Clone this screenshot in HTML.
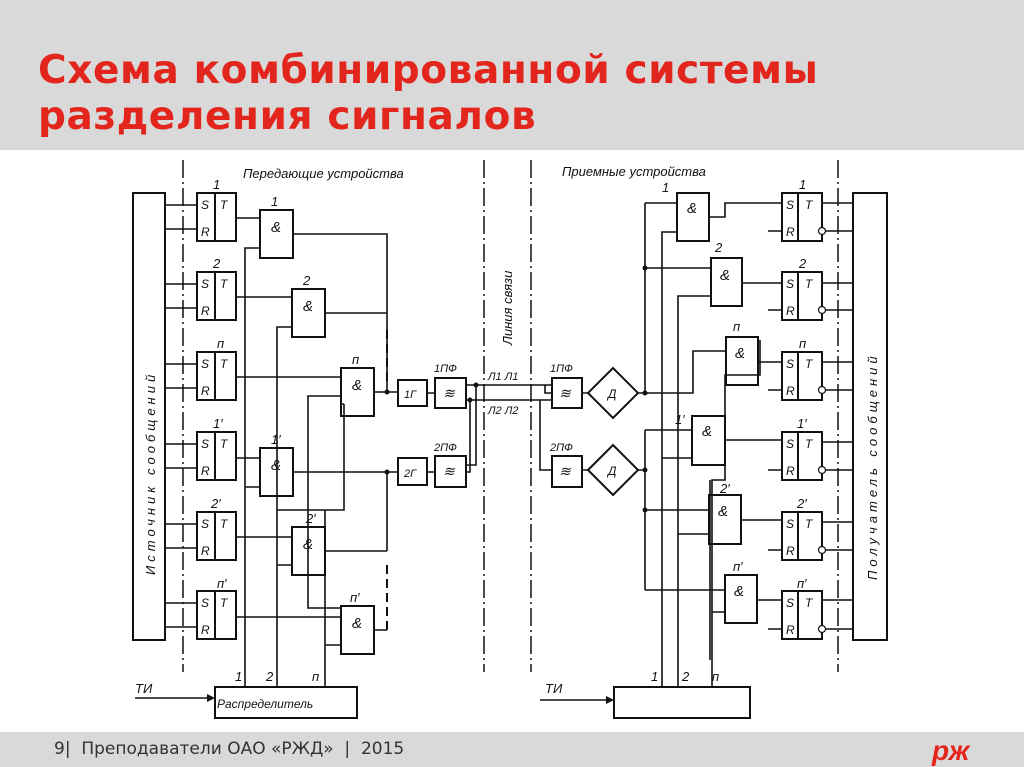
<!DOCTYPE html>
<html><head><meta charset="utf-8"><style>
body{margin:0;width:1024px;height:767px;overflow:hidden;background:#fff;font-family:"Liberation Sans",sans-serif}
.hdr{position:absolute;left:0;top:0;width:1024px;height:150px;background:#d9d9d9}
.t{position:absolute;left:38px;top:48px;color:#e3261d;font-family:"DejaVu Sans",sans-serif;font-size:39px;font-weight:bold;line-height:46px;letter-spacing:0.6px}
.ftr{position:absolute;left:0;top:732px;width:1024px;height:35px;background:#d9d9d9}
.ft{position:absolute;left:54px;top:739px;font-family:"DejaVu Sans",sans-serif;font-size:17px;color:#333}
svg{position:absolute;left:0;top:0}
</style></head><body>
<div class="hdr"></div>
<div class="t">Схема комбинированной системы<br>разделения сигналов</div>
<div class="ftr"></div>
<div class="ft">9|&nbsp; Преподаватели ОАО «РЖД» &nbsp;| &nbsp;2015</div>
<svg width="1024" height="767" viewBox="0 0 1024 767">
<g fill="none" stroke="#111" stroke-width="2">
<rect x="133" y="193" width="32" height="447"/>
<rect x="853" y="193" width="34" height="447"/>
<g stroke-width="1.5" stroke-dasharray="18,4,2,4">
<line x1="183" y1="160" x2="183" y2="672"/>
<line x1="484" y1="160" x2="484" y2="672"/>
<line x1="531" y1="160" x2="531" y2="672"/>
<line x1="838" y1="160" x2="838" y2="672"/>
</g>
<rect x="197" y="193" width="39" height="48"/><line x1="215" y1="193" x2="215" y2="241"/>
<rect x="197" y="272" width="39" height="48"/><line x1="215" y1="272" x2="215" y2="320"/>
<rect x="197" y="352" width="39" height="48"/><line x1="215" y1="352" x2="215" y2="400"/>
<rect x="197" y="432" width="39" height="48"/><line x1="215" y1="432" x2="215" y2="480"/>
<rect x="197" y="512" width="39" height="48"/><line x1="215" y1="512" x2="215" y2="560"/>
<rect x="197" y="591" width="39" height="48"/><line x1="215" y1="591" x2="215" y2="639"/>
<rect x="782" y="193" width="40" height="48"/><line x1="798" y1="193" x2="798" y2="241"/>
<rect x="782" y="272" width="40" height="48"/><line x1="798" y1="272" x2="798" y2="320"/>
<rect x="782" y="352" width="40" height="48"/><line x1="798" y1="352" x2="798" y2="400"/>
<rect x="782" y="432" width="40" height="48"/><line x1="798" y1="432" x2="798" y2="480"/>
<rect x="782" y="512" width="40" height="48"/><line x1="798" y1="512" x2="798" y2="560"/>
<rect x="782" y="591" width="40" height="48"/><line x1="798" y1="591" x2="798" y2="639"/>
<rect x="260" y="210" width="33" height="48"/>
<rect x="292" y="289" width="33" height="48"/>
<rect x="341" y="368" width="33" height="48"/>
<rect x="260" y="448" width="33" height="48"/>
<rect x="292" y="527" width="33" height="48"/>
<rect x="341" y="606" width="33" height="48"/>
<rect x="677" y="193" width="32" height="48"/>
<rect x="711" y="258" width="31" height="48"/>
<rect x="726" y="337" width="32" height="48"/>
<rect x="692" y="416" width="33" height="49"/>
<rect x="709" y="495" width="32" height="49"/>
<rect x="725" y="575" width="32" height="48"/>
<rect x="398" y="380" width="29" height="26"/>
<rect x="435" y="378" width="31" height="30"/>
<rect x="398" y="458" width="29" height="27"/>
<rect x="435" y="456" width="31" height="31"/>
<rect x="552" y="378" width="30" height="30"/>
<rect x="552" y="456" width="30" height="31"/>
<polygon points="588,393 613,368 638,393 613,418"/>
<polygon points="588,470 613,445 638,470 613,495"/>
<rect x="215" y="687" width="142" height="31"/>
<rect x="614" y="687" width="136" height="31"/>
</g>
<g fill="none" stroke="#111" stroke-width="1.6">
<path d="M165 205H197M165 229H197M165 284H197M165 308H197M165 364H197M165 388H197M165 444H197M165 468H197M165 524H197M165 548H197M165 603H197M165 627H197"/>
<path d="M236 218H260M236 297H292M236 377H341M236 458H260M236 537H292M236 617H341"/>
<path d="M245 687V248H260M245 487H260"/>
<path d="M277 687V327H292M277 565H292"/>
<path d="M325 687V645H341M325 645V510H344V404M344 404H341M325 510H277"/>
<path d="M308 416V396H341M308 416V608H341"/>
<path d="M293 234H387V313M325 313H387M374 392H398M387 313V392"/>
<path d="M293 472H398M387 472V551M325 551H387M374 630H387"/>
<path d="M387 330V385M387 565V630" stroke-dasharray="9,5" stroke-width="2"/>
<path d="M427 393H435M427 472H435"/>
<path d="M466 385H552M466 400H552M476 385V465H466M470 400V472H466"/>
<path d="M540 400V470H552M545 385V393H552"/>
<path d="M582 393H588M582 470H588"/>
<path d="M638 393H693V351H726M645 203H677M645 203V393M645 268H711"/>
<path d="M638 470H645M645 430V590M645 430H692M645 510H709M645 590H725"/>
<path d="M662 687V232H677M662 458H692"/>
<path d="M678 687V296H711M678 534H709"/>
<path d="M712 687V480H725V375H760V340M712 612H725M710 480V660"/>
<path d="M709 217H725V203H782M742 283H782M758 362H782M725 440H782M741 520H782M757 600H782"/>
<path d="M768 231H782M768 310H782M768 390H782M768 470H782M768 550H782M768 629H782"/>
<path d="M822 203H853M826 231H853M822 283H853M826 310H853M822 362H853M826 390H853M822 442H853M826 470H853M822 522H853M826 550H853M822 600H853M826 629H853"/>
<path d="M135 698H210M540 700H608"/>
</g>
<g fill="#fff" stroke="#111" stroke-width="1.2">
<circle cx="822" cy="231" r="3.5"/><circle cx="822" cy="310" r="3.5"/><circle cx="822" cy="390" r="3.5"/>
<circle cx="822" cy="470" r="3.5"/><circle cx="822" cy="550" r="3.5"/><circle cx="822" cy="629" r="3.5"/>
</g>
<g fill="#111">
<polygon points="215,698 207,694 207,702"/><polygon points="614,700 606,696 606,704"/>
<circle cx="387" cy="392" r="2.5"/><circle cx="387" cy="472" r="2.5"/><circle cx="645" cy="393" r="2.5"/><circle cx="645" cy="268" r="2.5"/>
<circle cx="645" cy="470" r="2.5"/><circle cx="645" cy="510" r="2.5"/><circle cx="476" cy="385" r="2.5"/><circle cx="470" cy="400" r="2.5"/>
</g>
<g font-family="Liberation Sans,sans-serif" font-style="italic" font-size="13" fill="#111">
<text x="243" y="178">Передающие  устройства</text>
<text x="562" y="176">Приемные  устройства</text>
<text x="0" y="0" transform="translate(512,345) rotate(-90)">Линия связи</text>
<text x="0" y="0" transform="translate(155,575) rotate(-90)" letter-spacing="4">Источник  сообщений</text>
<text x="0" y="0" transform="translate(877,580) rotate(-90)" letter-spacing="4">Получатель  сообщений</text>
<g font-size="12">
<text x="201" y="209">S</text><text x="220" y="209">T</text><text x="201" y="236">R</text>
<text x="201" y="288">S</text><text x="220" y="288">T</text><text x="201" y="315">R</text>
<text x="201" y="368">S</text><text x="220" y="368">T</text><text x="201" y="395">R</text>
<text x="201" y="448">S</text><text x="220" y="448">T</text><text x="201" y="475">R</text>
<text x="201" y="528">S</text><text x="220" y="528">T</text><text x="201" y="555">R</text>
<text x="201" y="607">S</text><text x="220" y="607">T</text><text x="201" y="634">R</text>
<text x="786" y="209">S</text><text x="805" y="209">T</text><text x="786" y="236">R</text>
<text x="786" y="288">S</text><text x="805" y="288">T</text><text x="786" y="315">R</text>
<text x="786" y="368">S</text><text x="805" y="368">T</text><text x="786" y="395">R</text>
<text x="786" y="448">S</text><text x="805" y="448">T</text><text x="786" y="475">R</text>
<text x="786" y="528">S</text><text x="805" y="528">T</text><text x="786" y="555">R</text>
<text x="786" y="607">S</text><text x="805" y="607">T</text><text x="786" y="634">R</text>
</g>
<g font-size="15"><text x="271" y="232">&amp;</text><text x="303" y="311">&amp;</text><text x="352" y="390">&amp;</text>
<text x="271" y="470">&amp;</text><text x="303" y="549">&amp;</text><text x="352" y="628">&amp;</text>
<text x="687" y="213">&amp;</text><text x="720" y="280">&amp;</text><text x="735" y="358">&amp;</text>
<text x="702" y="436">&amp;</text><text x="718" y="516">&amp;</text><text x="734" y="596">&amp;</text></g>
<text x="213" y="189">1</text><text x="213" y="268">2</text><text x="217" y="348">п</text><text x="213" y="428">1′</text><text x="211" y="508">2′</text><text x="217" y="588">п′</text>
<text x="271" y="206">1</text><text x="303" y="285">2</text><text x="352" y="364">п</text><text x="271" y="444">1′</text><text x="306" y="523">2′</text><text x="350" y="602">п′</text>
<text x="799" y="189">1</text><text x="799" y="268">2</text><text x="799" y="348">п</text><text x="797" y="428">1′</text><text x="797" y="508">2′</text><text x="797" y="588">п′</text>
<text x="662" y="192">1</text><text x="715" y="252">2</text><text x="733" y="331">п</text><text x="675" y="424">1′</text><text x="720" y="493">2′</text><text x="733" y="571">п′</text>
<text x="404" y="398" font-size="11">1Г</text><text x="404" y="477" font-size="11">2Г</text>
<text x="434" y="372" font-size="11">1ПФ</text><text x="434" y="451" font-size="11">2ПФ</text>
<text x="550" y="372" font-size="11">1ПФ</text><text x="550" y="451" font-size="11">2ПФ</text>
<text x="443" y="398" font-size="14">≋</text><text x="443" y="476" font-size="14">≋</text>
<text x="559" y="398" font-size="14">≋</text><text x="559" y="476" font-size="14">≋</text>
<text x="608" y="398" font-size="12">Д</text><text x="608" y="475" font-size="12">Д</text>
<text x="488" y="380" font-size="11">Л1  Л1</text><text x="488" y="414" font-size="11">Л2  Л2</text>
<text x="217" y="708" font-size="12">Распределитель</text>
<text x="135" y="693">ТИ</text><text x="545" y="693">ТИ</text>
<text x="235" y="681">1</text><text x="266" y="681">2</text><text x="312" y="681">п</text>
<text x="651" y="681">1</text><text x="682" y="681">2</text><text x="712" y="681">п</text>
</g>
<text x="932" y="760" font-family="Liberation Sans,sans-serif" font-weight="bold" font-style="italic" font-size="28" fill="#e3261d">рж</text>
</svg>
</body></html>
